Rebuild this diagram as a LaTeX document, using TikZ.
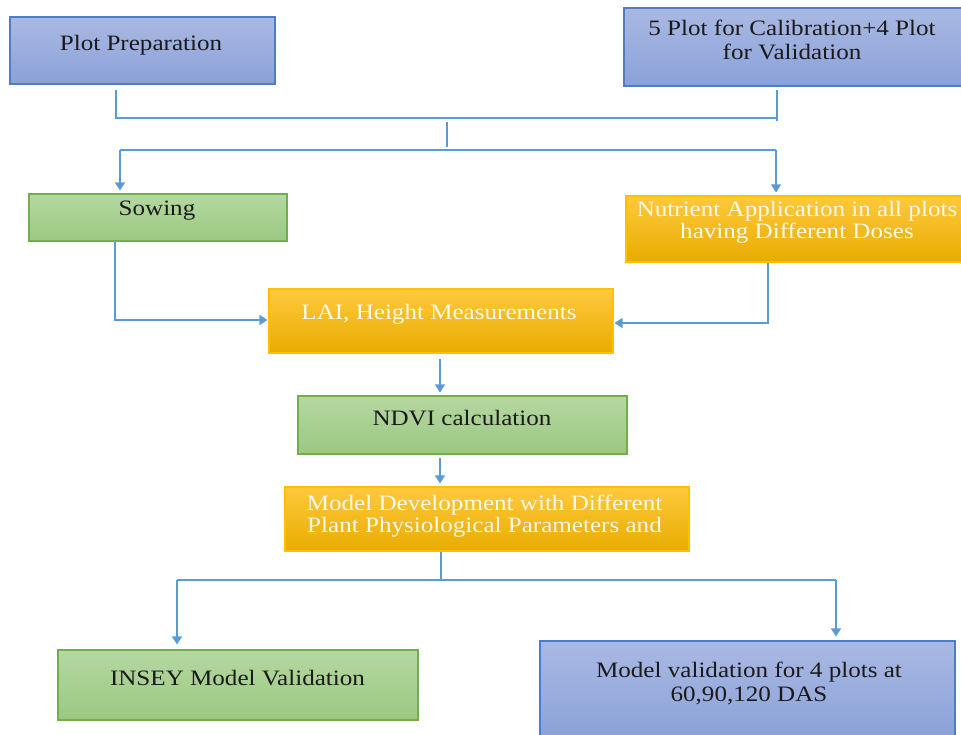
\documentclass[tikz,border=0pt]{standalone}
\usepackage{fontspec}
\setmainfont{Liberation Serif}[FakeStretch=1.14]
\usetikzlibrary{arrows.meta,calc}
\definecolor{bluetop}{HTML}{AAB9E3}
\definecolor{bluebot}{HTML}{8AA1D8}
\definecolor{blueedge}{HTML}{4F7CC9}
\definecolor{greentop}{HTML}{B5D8A1}
\definecolor{greenbot}{HTML}{9BC882}
\definecolor{greenedge}{HTML}{72AE4C}
\definecolor{orgtop}{HTML}{FFC93D}
\definecolor{orgbot}{HTML}{E8AC00}
\definecolor{orgedge}{HTML}{FFC000}
\definecolor{linec}{HTML}{5B9BD5}
\definecolor{darktext}{HTML}{1A1A1A}
\definecolor{whitetext}{HTML}{FFF9EC}
\tikzset{
  boxbase/.style={rectangle, line width=1.1pt, inner sep=0pt},
  bluebox/.style={boxbase, top color=bluetop, bottom color=bluebot, draw=blueedge},
  greenbox/.style={boxbase, top color=greentop, bottom color=greenbot, draw=greenedge},
  orgbox/.style={boxbase, top color=orgtop, bottom color=orgbot, draw=orgedge},
  dtext/.style={inner sep=0pt, align=center, text=darktext, font=\fontsize{22}{24}\selectfont},
  wtext/.style={inner sep=0pt, align=center, text=whitetext, font=\fontsize{22}{22}\selectfont},
  conn/.style={draw=linec, line width=1.2pt},
  arr/.style={conn, -{Triangle[width=10pt,length=8pt]}}
}
\begin{document}
\begin{tikzpicture}[x=1pt,y=-1pt]
\useasboundingbox (0,0) rectangle (961,735);
% boxes
\node[bluebox, minimum width=265pt, minimum height=67pt] (pp) at (142.5,50.5) {};
\node[bluebox, minimum width=340pt, minimum height=78pt] (cal) at (794,47) {};
\node[greenbox, minimum width=258pt, minimum height=47pt] (sow) at (158,217.5) {};
\node[orgbox, minimum width=338pt, minimum height=66pt] (nut) at (795,229) {};
\node[orgbox, minimum width=344pt, minimum height=64pt] (lai) at (441,321) {};
\node[greenbox, minimum width=329pt, minimum height=58pt] (ndvi) at (462.5,425) {};
\node[orgbox, minimum width=404pt, minimum height=64pt] (mod) at (487,519) {};
\node[greenbox, minimum width=360pt, minimum height=70pt] (insey) at (238,685) {};
\node[bluebox, minimum width=415pt, minimum height=98pt] (mval) at (747.5,690) {};
% texts
\node[dtext] (tpp) at (141,45) {Plot Preparation};
\node[dtext] (tcal) at (792,40) {5 Plot for Calibration+4 Plot\\for Validation};
\node[dtext] (tsow) at (157,211) {Sowing};
\node[wtext] (tnut) at (797,222) {Nutrient Application in all plots\\having Different Doses};
\node[wtext] (tlai) at (439,314) {LAI, Height Measurements};
\node[dtext] (tndvi) at (462,418) {NDVI calculation};
\node[wtext] (tmod) at (484.5,516) {Model Development with Different\\Plant Physiological Parameters and};
\node[dtext] (tinsey) at (237.5,678) {INSEY Model Validation};
\node[dtext] (tmval) at (749,683) {Model validation for 4 plots at\\60,90,120 DAS};
% connectors
\coordinate (ppdown) at (116,90);
\coordinate (caldown) at (777,90);
\coordinate (jA) at (777,118);
\coordinate (jAend) at (777,121);
\draw[conn] (ppdown) |- (jA);
\draw[conn] (caldown) -- (jAend);
\coordinate (midA) at (447,122);
\coordinate (midB) at (447,147);
\draw[conn] (midA) -- (midB);
\coordinate (splitL) at (120,150);
\coordinate (splitR) at (776,150);
\draw[conn] (splitL) -- (splitR);
\draw[arr, shorten >=3pt] (splitL) -- (120,0 |- sow.north);
\draw[arr, shorten >=3pt] (splitR) -- (776,0 |- nut.north);
\draw[arr, shorten >=1pt] (115,0 |- sow.south) |- (lai.west |- 0,320);
\draw[arr, shorten >=1pt] (768,0 |- nut.south) |- (lai.east |- 0,323);
\draw[arr, shorten <=5pt, shorten >=3pt] (440,0 |- lai.south) -- (440,0 |- ndvi.north);
\draw[arr, shorten <=3pt, shorten >=3pt] (440,0 |- ndvi.south) -- (440,0 |- mod.north);
\coordinate (modj) at (441,580);
\draw[conn] (441,0 |- mod.south) -- (modj);
\coordinate (spL) at (177,580);
\coordinate (spR) at (836,580);
\draw[conn] (spL) -- (spR);
\draw[arr, shorten >=5pt] (spL) -- (177,0 |- insey.north);
\draw[arr, shorten >=4pt] (spR) -- (836,0 |- mval.north);
\end{tikzpicture}
\end{document}
